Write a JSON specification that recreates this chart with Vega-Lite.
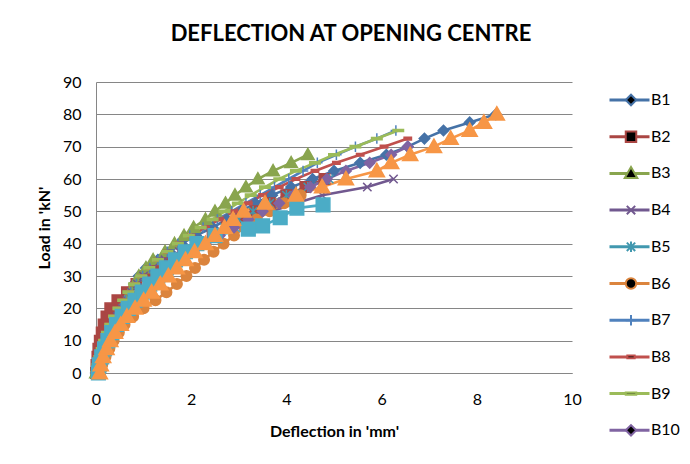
{
  "$schema": "https://vega.github.io/schema/vega-lite/v6.json",
  "autosize": {"type": "none"},
  "width": 476,
  "height": 291,
  "padding": {"left": 96, "top": 82, "right": 118, "bottom": 91},
  "background": "white",
  "title": {"text": "DEFLECTION AT OPENING CENTRE", "font": "Lato", "fontSize": 22, "fontWeight": "bold", "color": "#000000", "anchor": "middle", "dx": 17, "offset": 28},
  "config": {"view": {"stroke": null}, "font": "Lato"},
  "data": {"values": [
    {"s":"B1","L":0,"d":0},{"s":"B1","L":2.5,"d":0.03},{"s":"B1","L":5,"d":0.07},{"s":"B1","L":7.5,"d":0.12},{"s":"B1","L":10,"d":0.17},{"s":"B1","L":12.5,"d":0.24},{"s":"B1","L":15,"d":0.31},{"s":"B1","L":17.5,"d":0.4},{"s":"B1","L":20,"d":0.5},{"s":"B1","L":22.5,"d":0.6},{"s":"B1","L":25,"d":0.7},{"s":"B1","L":27.5,"d":0.8},{"s":"B1","L":30,"d":0.9},{"s":"B1","L":32.5,"d":1.05},{"s":"B1","L":35,"d":1.3},{"s":"B1","L":37.5,"d":1.55},{"s":"B1","L":40,"d":1.8},{"s":"B1","L":42.5,"d":2.1},{"s":"B1","L":45,"d":2.45},{"s":"B1","L":47.5,"d":2.75},{"s":"B1","L":50,"d":3.05},{"s":"B1","L":52.5,"d":3.35},{"s":"B1","L":55,"d":3.7},{"s":"B1","L":57.5,"d":4.1},{"s":"B1","L":60,"d":4.55},{"s":"B1","L":62.5,"d":5.0},{"s":"B1","L":65,"d":5.55},{"s":"B1","L":67.5,"d":6.1},{"s":"B1","L":70,"d":6.55},{"s":"B1","L":72.5,"d":6.9},{"s":"B1","L":75,"d":7.3},{"s":"B1","L":77.5,"d":7.85},{"s":"B1","L":80,"d":8.4},
    {"s":"B2","L":0,"d":0},{"s":"B2","L":2.5,"d":0.01},{"s":"B2","L":5,"d":0.03},{"s":"B2","L":7.5,"d":0.05},{"s":"B2","L":10,"d":0.08},{"s":"B2","L":12.5,"d":0.12},{"s":"B2","L":15,"d":0.16},{"s":"B2","L":17.5,"d":0.22},{"s":"B2","L":20,"d":0.3},{"s":"B2","L":22.5,"d":0.45},{"s":"B2","L":25,"d":0.65},{"s":"B2","L":27.5,"d":0.85},{"s":"B2","L":30,"d":1.05},{"s":"B2","L":32.5,"d":1.3},{"s":"B2","L":35,"d":1.55},{"s":"B2","L":37.5,"d":1.85},{"s":"B2","L":40,"d":2.15},{"s":"B2","L":42.5,"d":2.45},{"s":"B2","L":45,"d":2.75},{"s":"B2","L":47.5,"d":3.05},{"s":"B2","L":50,"d":3.35},{"s":"B2","L":52.5,"d":3.65},{"s":"B2","L":55,"d":4.0},{"s":"B2","L":57.5,"d":4.4},{"s":"B2","L":60,"d":4.8},
    {"s":"B3","L":0,"d":0},{"s":"B3","L":2.5,"d":0.04},{"s":"B3","L":5,"d":0.1},{"s":"B3","L":7.5,"d":0.16},{"s":"B3","L":10,"d":0.23},{"s":"B3","L":12.5,"d":0.3},{"s":"B3","L":15,"d":0.38},{"s":"B3","L":17.5,"d":0.46},{"s":"B3","L":20,"d":0.55},{"s":"B3","L":22.5,"d":0.63},{"s":"B3","L":25,"d":0.72},{"s":"B3","L":27.5,"d":0.82},{"s":"B3","L":30,"d":0.9},{"s":"B3","L":32.5,"d":1.05},{"s":"B3","L":35,"d":1.2},{"s":"B3","L":37.5,"d":1.45},{"s":"B3","L":40,"d":1.65},{"s":"B3","L":42.5,"d":1.85},{"s":"B3","L":45,"d":2.05},{"s":"B3","L":47.5,"d":2.3},{"s":"B3","L":50,"d":2.5},{"s":"B3","L":52.5,"d":2.72},{"s":"B3","L":55,"d":2.92},{"s":"B3","L":57.5,"d":3.15},{"s":"B3","L":60,"d":3.4},{"s":"B3","L":62.5,"d":3.72},{"s":"B3","L":65,"d":4.1},{"s":"B3","L":67.5,"d":4.45},
    {"s":"B4","L":0,"d":0},{"s":"B4","L":2.5,"d":0.04},{"s":"B4","L":5,"d":0.09},{"s":"B4","L":7.5,"d":0.15},{"s":"B4","L":10,"d":0.21},{"s":"B4","L":12.5,"d":0.28},{"s":"B4","L":15,"d":0.36},{"s":"B4","L":17.5,"d":0.45},{"s":"B4","L":20,"d":0.55},{"s":"B4","L":22.5,"d":0.65},{"s":"B4","L":25,"d":0.75},{"s":"B4","L":27.5,"d":0.87},{"s":"B4","L":30,"d":1.0},{"s":"B4","L":32.5,"d":1.2},{"s":"B4","L":35,"d":1.45},{"s":"B4","L":37.5,"d":1.75},{"s":"B4","L":40,"d":2.1},{"s":"B4","L":42.5,"d":2.45},{"s":"B4","L":45,"d":2.85},{"s":"B4","L":47.5,"d":3.25},{"s":"B4","L":50,"d":3.7},{"s":"B4","L":52.5,"d":4.2},{"s":"B4","L":55,"d":4.75},{"s":"B4","L":57.5,"d":5.7},{"s":"B4","L":60,"d":6.25},
    {"s":"B5","L":0,"d":0},{"s":"B5","L":2.5,"d":0.06},{"s":"B5","L":5,"d":0.13},{"s":"B5","L":7.5,"d":0.2},{"s":"B5","L":10,"d":0.28},{"s":"B5","L":12.5,"d":0.37},{"s":"B5","L":15,"d":0.47},{"s":"B5","L":17.5,"d":0.58},{"s":"B5","L":20,"d":0.7},{"s":"B5","L":22.5,"d":0.83},{"s":"B5","L":25,"d":0.97},{"s":"B5","L":27.5,"d":1.12},{"s":"B5","L":30,"d":1.3},{"s":"B5","L":32.5,"d":1.5},{"s":"B5","L":35,"d":1.72},{"s":"B5","L":37.5,"d":1.95},{"s":"B5","L":40,"d":2.2},{"s":"B5","L":42.5,"d":2.45},{"s":"B5","L":45,"d":2.7},{"s":"B5","L":47.5,"d":3.0},{"s":"B5","L":50,"d":3.3},{"s":"B5","L":52.5,"d":3.65},{"s":"B5","L":55,"d":4.0},{"s":"B5","L":57.5,"d":4.45},{"s":"B5","L":60,"d":4.9},
    {"s":"B6","L":0,"d":0.08},{"s":"B6","L":2.5,"d":0.13},{"s":"B6","L":5,"d":0.2},{"s":"B6","L":7.5,"d":0.28},{"s":"B6","L":10,"d":0.37},{"s":"B6","L":12.5,"d":0.48},{"s":"B6","L":15,"d":0.6},{"s":"B6","L":17.5,"d":0.78},{"s":"B6","L":20,"d":1.0},{"s":"B6","L":22.5,"d":1.25},{"s":"B6","L":25,"d":1.48},{"s":"B6","L":27.5,"d":1.7},{"s":"B6","L":30,"d":1.9},{"s":"B6","L":32.5,"d":2.08},{"s":"B6","L":35,"d":2.27},{"s":"B6","L":37.5,"d":2.47},{"s":"B6","L":40,"d":2.68},{"s":"B6","L":42.5,"d":2.9},{"s":"B6","L":45,"d":3.12},{"s":"B6","L":47.5,"d":3.38},{"s":"B6","L":50,"d":3.65},{"s":"B6","L":52.5,"d":3.95},{"s":"B6","L":55,"d":4.3},
    {"s":"B7","L":0,"d":0},{"s":"B7","L":2.5,"d":0.04},{"s":"B7","L":5,"d":0.09},{"s":"B7","L":7.5,"d":0.15},{"s":"B7","L":10,"d":0.21},{"s":"B7","L":12.5,"d":0.28},{"s":"B7","L":15,"d":0.35},{"s":"B7","L":17.5,"d":0.43},{"s":"B7","L":20,"d":0.52},{"s":"B7","L":22.5,"d":0.62},{"s":"B7","L":25,"d":0.73},{"s":"B7","L":27.5,"d":0.85},{"s":"B7","L":30,"d":0.98},{"s":"B7","L":32.5,"d":1.13},{"s":"B7","L":35,"d":1.3},{"s":"B7","L":37.5,"d":1.5},{"s":"B7","L":40,"d":1.72},{"s":"B7","L":42.5,"d":1.97},{"s":"B7","L":45,"d":2.25},{"s":"B7","L":47.5,"d":2.55},{"s":"B7","L":50,"d":2.85},{"s":"B7","L":52.5,"d":3.15},{"s":"B7","L":55,"d":3.45},{"s":"B7","L":57.5,"d":3.75},{"s":"B7","L":60,"d":4.05},{"s":"B7","L":62.5,"d":4.35},{"s":"B7","L":65,"d":4.65},{"s":"B7","L":67.5,"d":5.05},{"s":"B7","L":70,"d":5.45},{"s":"B7","L":72.5,"d":5.9},{"s":"B7","L":75,"d":6.3},
    {"s":"B8","L":0,"d":0},{"s":"B8","L":2.5,"d":0.03},{"s":"B8","L":5,"d":0.06},{"s":"B8","L":7.5,"d":0.1},{"s":"B8","L":10,"d":0.15},{"s":"B8","L":12.5,"d":0.2},{"s":"B8","L":15,"d":0.27},{"s":"B8","L":17.5,"d":0.35},{"s":"B8","L":20,"d":0.45},{"s":"B8","L":22.5,"d":0.56},{"s":"B8","L":25,"d":0.68},{"s":"B8","L":27.5,"d":0.8},{"s":"B8","L":30,"d":0.95},{"s":"B8","L":32.5,"d":1.12},{"s":"B8","L":35,"d":1.3},{"s":"B8","L":37.5,"d":1.5},{"s":"B8","L":40,"d":1.75},{"s":"B8","L":42.5,"d":2.0},{"s":"B8","L":45,"d":2.3},{"s":"B8","L":47.5,"d":2.6},{"s":"B8","L":50,"d":2.9},{"s":"B8","L":52.5,"d":3.2},{"s":"B8","L":55,"d":3.5},{"s":"B8","L":57.5,"d":3.85},{"s":"B8","L":60,"d":4.2},{"s":"B8","L":62.5,"d":4.6},{"s":"B8","L":65,"d":5.05},{"s":"B8","L":67.5,"d":5.55},{"s":"B8","L":70,"d":6.05},{"s":"B8","L":72.5,"d":6.55},
    {"s":"B9","L":0,"d":0},{"s":"B9","L":2.5,"d":0.03},{"s":"B9","L":5,"d":0.07},{"s":"B9","L":7.5,"d":0.12},{"s":"B9","L":10,"d":0.17},{"s":"B9","L":12.5,"d":0.23},{"s":"B9","L":15,"d":0.3},{"s":"B9","L":17.5,"d":0.38},{"s":"B9","L":20,"d":0.47},{"s":"B9","L":22.5,"d":0.57},{"s":"B9","L":25,"d":0.68},{"s":"B9","L":27.5,"d":0.8},{"s":"B9","L":30,"d":0.95},{"s":"B9","L":32.5,"d":1.12},{"s":"B9","L":35,"d":1.3},{"s":"B9","L":37.5,"d":1.5},{"s":"B9","L":40,"d":1.72},{"s":"B9","L":42.5,"d":1.95},{"s":"B9","L":45,"d":2.2},{"s":"B9","L":47.5,"d":2.45},{"s":"B9","L":50,"d":2.7},{"s":"B9","L":52.5,"d":2.98},{"s":"B9","L":55,"d":3.25},{"s":"B9","L":57.5,"d":3.55},{"s":"B9","L":60,"d":3.85},{"s":"B9","L":62.5,"d":4.2},{"s":"B9","L":65,"d":4.6},{"s":"B9","L":67.5,"d":5.0},{"s":"B9","L":70,"d":5.45},{"s":"B9","L":72.5,"d":5.9},{"s":"B9","L":75,"d":6.35},
    {"s":"B10","L":0,"d":0},{"s":"B10","L":2.5,"d":0.05},{"s":"B10","L":5,"d":0.11},{"s":"B10","L":7.5,"d":0.18},{"s":"B10","L":10,"d":0.26},{"s":"B10","L":12.5,"d":0.35},{"s":"B10","L":15,"d":0.45},{"s":"B10","L":17.5,"d":0.56},{"s":"B10","L":20,"d":0.68},{"s":"B10","L":22.5,"d":0.82},{"s":"B10","L":25,"d":0.97},{"s":"B10","L":27.5,"d":1.14},{"s":"B10","L":30,"d":1.33},{"s":"B10","L":32.5,"d":1.55},{"s":"B10","L":35,"d":1.8},{"s":"B10","L":37.5,"d":2.05},{"s":"B10","L":40,"d":2.3},{"s":"B10","L":42.5,"d":2.6},{"s":"B10","L":45,"d":2.9},{"s":"B10","L":47.5,"d":3.2},{"s":"B10","L":50,"d":3.5},{"s":"B10","L":52.5,"d":3.85},{"s":"B10","L":55,"d":4.15},{"s":"B10","L":57.5,"d":4.5},{"s":"B10","L":60,"d":4.85},{"s":"B10","L":62.5,"d":5.25},{"s":"B10","L":65,"d":5.75},{"s":"B10","L":67.5,"d":6.2},{"s":"B10","L":70,"d":6.55},
    {"s":"B11","L":0,"d":0.05},{"s":"B11","L":2.5,"d":0.07},{"s":"B11","L":5,"d":0.12},{"s":"B11","L":7.5,"d":0.18},{"s":"B11","L":10,"d":0.25},{"s":"B11","L":12.5,"d":0.33},{"s":"B11","L":15,"d":0.43},{"s":"B11","L":17.5,"d":0.55},{"s":"B11","L":20,"d":0.68},{"s":"B11","L":22.5,"d":0.82},{"s":"B11","L":25,"d":0.97},{"s":"B11","L":27.5,"d":1.13},{"s":"B11","L":30,"d":1.3},{"s":"B11","L":32.5,"d":1.48},{"s":"B11","L":35,"d":1.67},{"s":"B11","L":37.5,"d":1.88},{"s":"B11","L":40,"d":2.12},{"s":"B11","L":42.5,"d":2.5},{"s":"B11","L":44.5,"d":3.2},{"s":"B11","L":45.5,"d":3.5},{"s":"B11","L":48,"d":3.87},{"s":"B11","L":51,"d":4.22},{"s":"B11","L":52,"d":4.77},
    {"s":"B12","L":0,"d":0.08},{"s":"B12","L":2.5,"d":0.1},{"s":"B12","L":5,"d":0.15},{"s":"B12","L":7.5,"d":0.22},{"s":"B12","L":10,"d":0.3},{"s":"B12","L":12.5,"d":0.4},{"s":"B12","L":15,"d":0.52},{"s":"B12","L":17.5,"d":0.65},{"s":"B12","L":20,"d":0.82},{"s":"B12","L":22.5,"d":1.0},{"s":"B12","L":25,"d":1.17},{"s":"B12","L":27.5,"d":1.35},{"s":"B12","L":30,"d":1.52},{"s":"B12","L":32.5,"d":1.7},{"s":"B12","L":35,"d":1.88},{"s":"B12","L":37.5,"d":2.07},{"s":"B12","L":40,"d":2.3},{"s":"B12","L":42.5,"d":2.5},{"s":"B12","L":45,"d":2.7},{"s":"B12","L":47.5,"d":2.88},{"s":"B12","L":50,"d":3.1},{"s":"B12","L":52.5,"d":3.55},{"s":"B12","L":55,"d":4.2},{"s":"B12","L":57.5,"d":4.75},{"s":"B12","L":60,"d":5.25},{"s":"B12","L":62.5,"d":5.9},{"s":"B12","L":65,"d":6.2},{"s":"B12","L":67.5,"d":6.6},{"s":"B12","L":70,"d":7.1},{"s":"B12","L":72.5,"d":7.45},{"s":"B12","L":75,"d":7.85},{"s":"B12","L":77.5,"d":8.15},{"s":"B12","L":80,"d":8.42}
  ]},
  "encoding": {
    "x": {"field": "d", "type": "quantitative", "scale": {"domain": [0, 10], "nice": false},
      "axis": {"values": [0, 2, 4, 6, 8, 10], "grid": false, "ticks": false, "labelFlush": false, "domainColor": "#868686", "labelFont": "Lato", "labelFontSize": 16, "labelColor": "#000000", "labelPadding": 18,
        "title": "Deflection in 'mm'", "titleFont": "Lato", "titleFontSize": 16, "titleFontWeight": "bold", "titleColor": "#000000", "titlePadding": 16}},
    "y": {"field": "L", "type": "quantitative", "scale": {"domain": [0, 90], "nice": false},
      "axis": {"values": [0, 10, 20, 30, 40, 50, 60, 70, 80, 90], "grid": true, "gridColor": "#868686", "ticks": false, "domainColor": "#868686", "labelFont": "Lato", "labelFontSize": 16, "labelColor": "#000000", "labelPadding": 15,
        "title": "Load in 'kN'", "titleFont": "Lato", "titleFontSize": 16, "titleFontWeight": "bold", "titleColor": "#000000", "titlePadding": 10}}
  },
  "layer": [
    {
      "mark": {"type": "line", "strokeWidth": 2.6},
      "encoding": {
        "order": {"field": "L", "type": "quantitative"},
        "color": {"field": "s", "type": "nominal",
          "scale": {"domain": ["B1","B2","B3","B4","B5","B6","B7","B8","B9","B10","B11","B12"],
                    "range": ["#4572A7","#AA4643","#89A54E","#71588F","#4198AF","#DB843D","#4F81BD","#C0504D","#9BBB59","#8064A2","#4BACC6","#F79646"]},
          "legend": {"orient": "right", "offset": 36, "padding": 0, "title": null, "values": ["B1","B2","B3","B4","B5","B6","B7","B8","B9","B10"],
            "symbolType": "stroke", "symbolSize": 1600, "symbolStrokeWidth": 3, "clipHeight": 36, "rowPadding": 0.7,
            "labelFont": "Lato", "labelFontSize": 16, "labelColor": "#000000", "labelOffset": 0}}
      }
    },
    {
      "mark": {"type": "point", "filled": true, "opacity": 1, "strokeWidth": 1.5, "size": 110},
      "encoding": {
        "color": {"field": "s", "type": "nominal", "legend": null},
        "stroke": {"field": "s", "type": "nominal", "legend": null,
          "scale": {"domain": ["B1","B2","B3","B4","B5","B6","B7","B8","B9","B10","B11","B12"],
                    "range": ["#4572A7","#AA4643","#89A54E","#71588F","#4198AF","#DB843D","#4F81BD","#C0504D","#9BBB59","#8064A2","#4BACC6","#F79646"]}},
        "shape": {"field": "s", "type": "nominal",
          "scale": {"domain": ["B1","B2","B3","B4","B5","B6","B7","B8","B9","B10","B11","B12"],
                    "range": ["diamond","square","M0,-1.2L1.2,0.9H-1.2Z","M-0.8,-0.8L0.8,0.8M-0.8,0.8L0.8,-0.8","M-0.8,-0.8L0.8,0.8M-0.8,0.8L0.8,-0.8M0,-1V1","circle","M-1,0H1M0,-1V1","M-0.7,-0.25H0.7V0.25H-0.7Z","M-1,-0.2H1V0.2H-1Z","diamond","M-1.3,-1.3H1.3V1.3H-1.3Z","M0,-1.45L1.45,1.1H-1.45Z"]},
          "legend": {"orient": "none", "legendX": 527, "legendY": 0, "padding": 0, "title": null, "values": ["B1","B2","B3","B4","B5","B6","B7","B8","B9","B10"],
            "symbolSize": 110, "symbolStrokeWidth": 2, "clipHeight": 36, "rowPadding": 0.7, "labelExpr": "''", "labelFontSize": 16,
            "encode": {"symbols": {"update": {"fill": {"scale": "color", "field": "value"}, "stroke": {"scale": "color", "field": "value"}, "opacity": {"value": 1}}}}}}
      }
    }
  ]
}
